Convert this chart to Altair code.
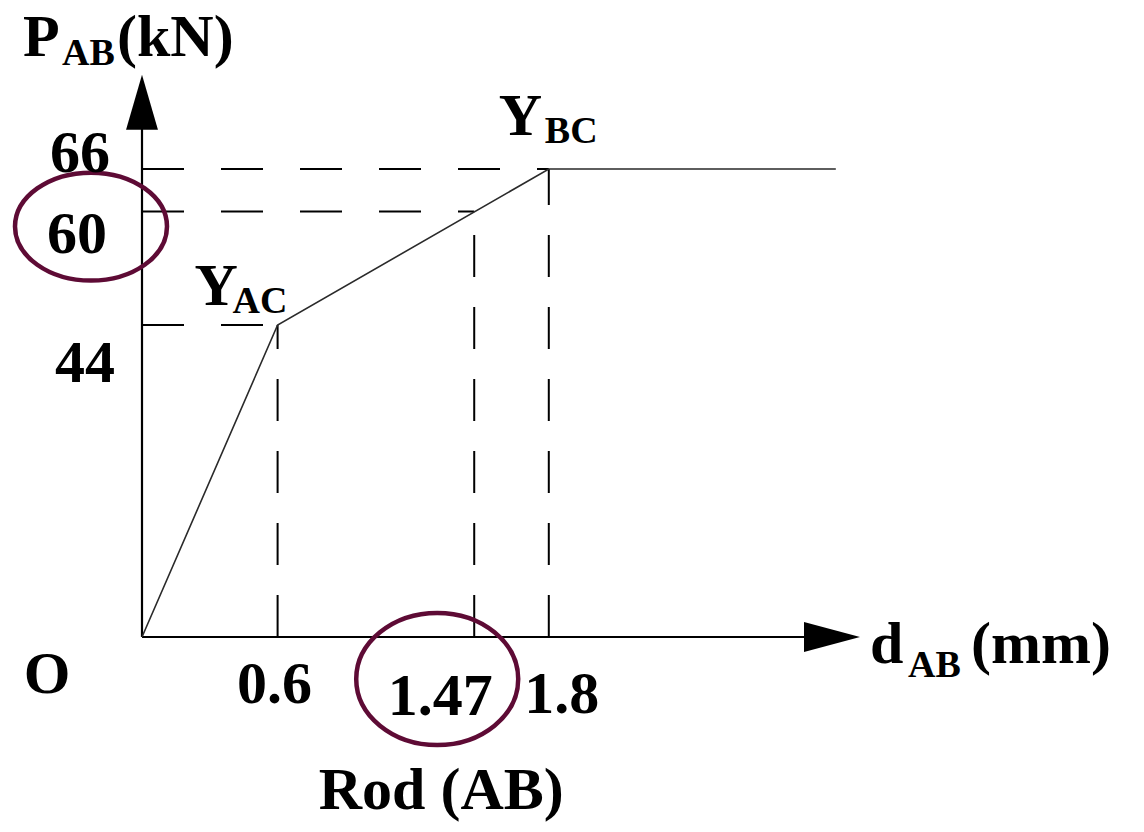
import altair as alt
import pandas as pd

# ---------------- data ----------------
curve_x = [0.0, 0.6, 1.8, 3.07]          # d_AB (mm)
curve_y = [0.0, 44.0, 66.0, 66.0]        # P_AB (kN)
guide_x = [0.6, 1.47, 1.8]
guide_y = [44.0, 60.0, 66.0]
x_tick_labels = ["0.6", "1.47", "1.8"]
y_tick_labels = ["44", "60", "66"]
x_axis_end = 3.177
y_axis_end = 79.3

# ---------------- layout / scales ----------------
W, H = 1128, 816
OX, OY = 134, 629          # origin inside the plot area (px)
PXX, PXY = 226.0, 7.09     # px per unit
xdom = [-OX / PXX, (W - OX) / PXX]
ydom = [(OY - H) / PXY, OY / PXY]
xs = alt.Scale(domain=xdom, nice=False, zero=False)
ys = alt.Scale(domain=ydom, nice=False, zero=False)

FONT = "Liberation Serif"
BIG, SUB = 60, 38
MAROON = "#5e0b35"


def X(f):
    return alt.X(f, type="quantitative", scale=xs, axis=None)


def Y(f):
    return alt.Y(f, type="quantitative", scale=ys, axis=None)


layers = []

# dashed guides, horizontal
dh = pd.DataFrame({"y": guide_y, "x0": [0.0] * 3, "x1": guide_x})
layers.append(
    alt.Chart(dh).mark_rule(color="black", strokeWidth=2, strokeDash=[42, 37])
    .encode(x=X("x0"), x2="x1", y=Y("y"))
)
# dashed guides, vertical
dv = pd.DataFrame({"x": guide_x, "y0": [0.0] * 3, "y1": guide_y})
layers.append(
    alt.Chart(dv).mark_rule(color="black", strokeWidth=2, strokeDash=[42, 30])
    .encode(x=X("x"), y=Y("y0"), y2="y1")
)

# axes
ax_y = pd.DataFrame({"x": [0.0], "y0": [0.0], "y1": [y_axis_end - 6]})
layers.append(
    alt.Chart(ax_y).mark_rule(color="black", strokeWidth=2.2)
    .encode(x=X("x"), y=Y("y0"), y2="y1")
)
ax_x = pd.DataFrame({"y": [0.0], "x0": [0.0], "x1": [x_axis_end - 0.2]})
layers.append(
    alt.Chart(ax_x).mark_rule(color="black", strokeWidth=2.2)
    .encode(x=X("x0"), x2="x1", y=Y("y"))
)

# the load-deformation curve
dc = pd.DataFrame({"x": curve_x, "y": curve_y, "i": list(range(len(curve_x)))})
layers.append(
    alt.Chart(dc).mark_line(color="#2a2a2a", strokeWidth=1.6)
    .encode(x=X("x"), y=Y("y"), order="i:O")
)

# arrow heads
layers.append(
    alt.Chart(pd.DataFrame({"x": [0.0], "y": [y_axis_end]}))
    .mark_point(shape="M0,0L0.29,1L-0.29,1Z", size=12100, filled=True,
                color="black", opacity=1, strokeWidth=0)
    .encode(x=X("x"), y=Y("y"))
)
layers.append(
    alt.Chart(pd.DataFrame({"x": [x_axis_end], "y": [0.0]}))
    .mark_point(shape="M0,0L-1,-0.27L-1,0.27Z", size=12544, filled=True,
                color="black", opacity=1, strokeWidth=0)
    .encode(x=X("x"), y=Y("y"))
)

# highlight ellipses
K = 0.5523


def ellipse(b):
    return (f"M-1,0C-1,{-K*b:.4f} {-K:.4f},{-b:.4f} 0,{-b:.4f}"
            f"C{K:.4f},{-b:.4f} 1,{-K*b:.4f} 1,0"
            f"C1,{K*b:.4f} {K:.4f},{b:.4f} 0,{b:.4f}"
            f"C{-K:.4f},{b:.4f} -1,{K*b:.4f} -1,0Z")


layers.append(
    alt.Chart(pd.DataFrame({"x": [0.0], "y": [guide_y[1]]}))
    .mark_point(shape=ellipse(0.71), size=23104, filled=False, color=MAROON,
                strokeWidth=4.5, opacity=1, xOffset=-51, yOffset=15)
    .encode(x=X("x"), y=Y("y"))
)
layers.append(
    alt.Chart(pd.DataFrame({"x": [guide_x[1]], "y": [0.0]}))
    .mark_point(shape=ellipse(0.815), size=26244, filled=False, color=MAROON,
                strokeWidth=4.5, opacity=1, xOffset=-37, yOffset=42)
    .encode(x=X("x"), y=Y("y"))
)


def label(text, x, y, dx, dy, size=BIG, align="center"):
    return (
        alt.Chart(pd.DataFrame({"x": [x], "y": [y], "t": [text]}))
        .mark_text(font=FONT, fontWeight="bold", fontSize=size, color="black",
                   align=align, baseline="alphabetic", dx=dx, dy=dy)
        .encode(x=X("x"), y=Y("y"), text="t:N")
    )


# y tick labels
layers.append(label(y_tick_labels[2], 0, guide_y[2], -62, 3))
layers.append(label(y_tick_labels[1], 0, guide_y[1], -65, 41))
layers.append(label(y_tick_labels[0], 0, guide_y[0], -57, 57))
# x tick labels
layers.append(label("O", 0, 0, -95, 56))
layers.append(label(x_tick_labels[0], guide_x[0], 0, -3, 66))
layers.append(label(x_tick_labels[1], guide_x[1], 0, -34, 78))
layers.append(label(x_tick_labels[2], guide_x[2], 0, 13, 76))
layers.append(label("Rod (AB)", guide_x[1], 0, -33, 172))

# axis titles
layers.append(label("P", 0, y_axis_end, -119, -19, align="left"))
layers.append(label("AB", 0, y_axis_end, -80, -10, size=SUB, align="left"))
layers.append(label("(kN)", 0, y_axis_end, -25, -19, align="left"))
layers.append(label("d", x_axis_end, 0, 10, 26, align="left"))
layers.append(label("AB", x_axis_end, 0, 48, 40, size=SUB, align="left"))
layers.append(label("(mm)", x_axis_end, 0, 111, 26, align="left"))

# yield point labels
layers.append(label("Y", guide_x[0], guide_y[0], -83, -20, align="left"))
layers.append(label("AC", guide_x[0], guide_y[0], -45, -12, size=SUB, align="left"))
layers.append(label("Y", guide_x[2], guide_y[2], -50, -34, align="left"))
layers.append(label("BC", guide_x[2], guide_y[2], -4, -26, size=SUB, align="left"))

chart = (
    alt.layer(*layers)
    .properties(width=W, height=H, padding=0, autosize=alt.AutoSizeParams(type="none"),
                background="white")
    .configure_view(stroke=None)
)

chart.save("out.html", embed_options={"renderer": "svg", "actions": False})
